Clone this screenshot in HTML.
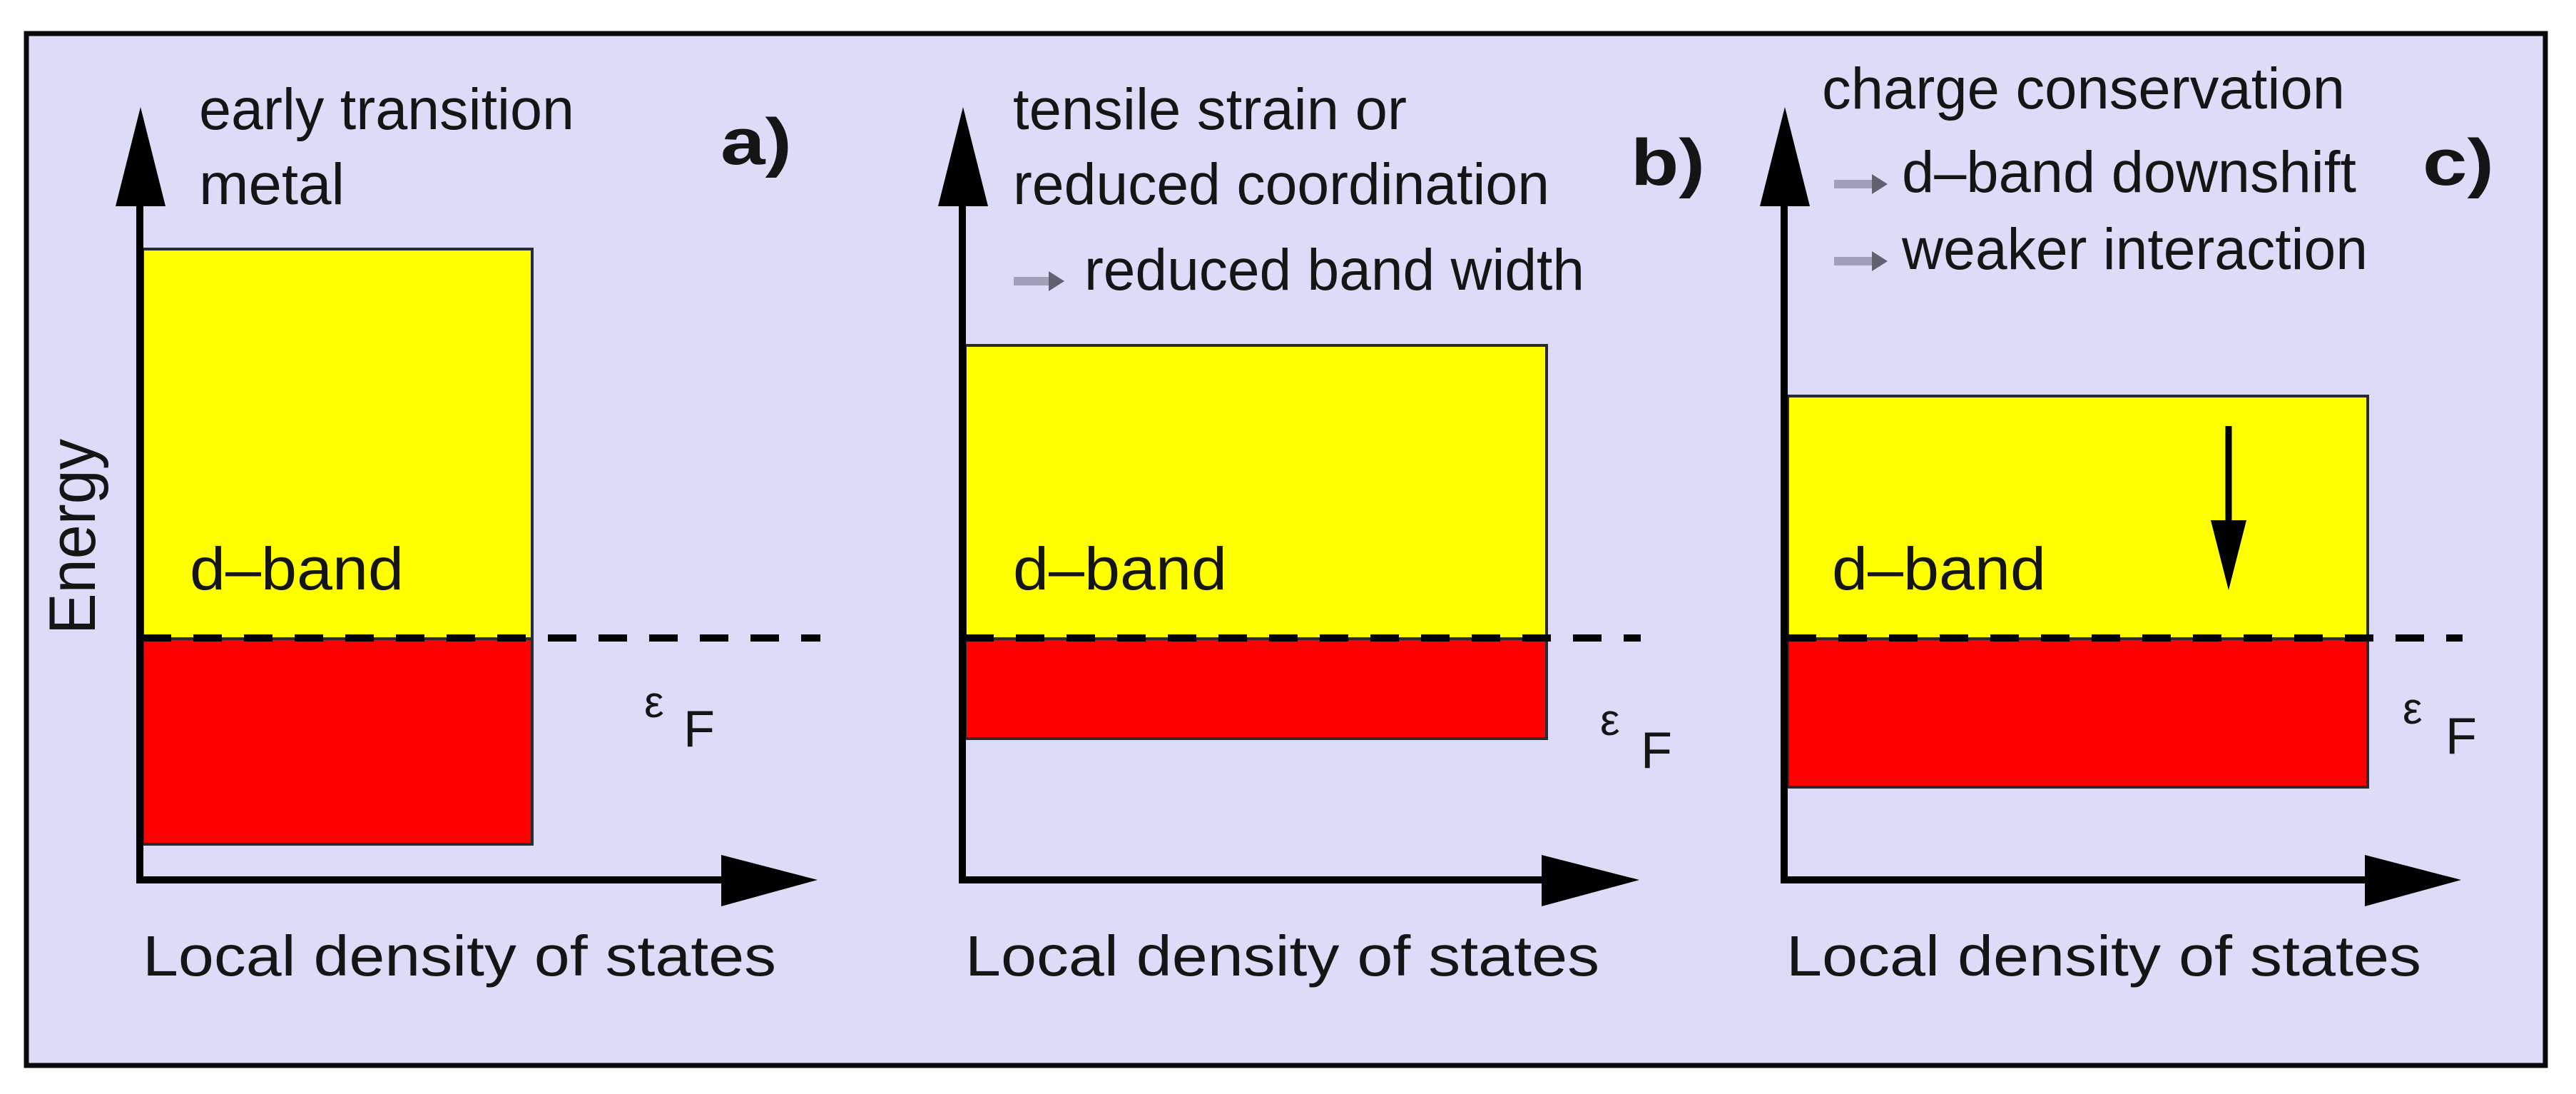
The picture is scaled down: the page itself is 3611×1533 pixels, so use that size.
<!DOCTYPE html>
<html><head><meta charset="utf-8"><style>
html,body{margin:0;padding:0;background:#fff;}
svg{display:block;}
text{font-family:"Liberation Sans",Arial,sans-serif;fill:#151515;}
</style></head><body>
<svg width="3611" height="1533" viewBox="0 0 3611 1533" xmlns="http://www.w3.org/2000/svg">
<rect x="0" y="0" width="3611" height="1533" fill="#fff"/>
<rect x="37" y="47" width="3531" height="1446" fill="#dcdcf9" stroke="#0a0a0a" stroke-width="7"/>

<!-- Panel a -->
<rect x="200" y="349" width="546" height="546" fill="#ffff00" stroke="#2a2a30" stroke-width="4"/>
<rect x="200" y="895" width="546" height="288" fill="#ff0000" stroke="#2a2a30" stroke-width="4"/>
<line x1="200" y1="894" x2="1150" y2="894" stroke="#000" stroke-width="10" stroke-dasharray="40 31"/>
<line x1="196" y1="1236" x2="196" y2="280" stroke="#000" stroke-width="10"/>
<polygon points="197,150 162,289 232,289" fill="#000"/>
<line x1="191" y1="1233" x2="1020" y2="1233" stroke="#000" stroke-width="10"/>
<polygon points="1146,1233 1011,1198 1011,1270" fill="#000"/>
<text x="279" y="181" font-size="82" textLength="526" lengthAdjust="spacingAndGlyphs">early transition</text>
<text x="279" y="286" font-size="82" textLength="204" lengthAdjust="spacingAndGlyphs">metal</text>
<text x="1010" y="230" font-size="92" font-weight="bold" textLength="100" lengthAdjust="spacingAndGlyphs">a)</text>
<text x="266" y="826" font-size="84" textLength="300" lengthAdjust="spacingAndGlyphs">d–band</text>
<text transform="translate(133,889) rotate(-90)" x="0" y="0" font-size="92" textLength="274" lengthAdjust="spacingAndGlyphs">Energy</text>
<text x="903" y="1005" font-size="62">ε</text>
<text x="958" y="1046" font-size="72">F</text>
<text x="200" y="1367" font-size="80" textLength="888" lengthAdjust="spacingAndGlyphs">Local density of states</text>

<!-- Panel b -->
<rect x="1353" y="484" width="815" height="411" fill="#ffff00" stroke="#2a2a30" stroke-width="4"/>
<rect x="1353" y="895" width="815" height="140" fill="#ff0000" stroke="#2a2a30" stroke-width="4"/>
<line x1="1353" y1="894" x2="2300" y2="894" stroke="#000" stroke-width="10" stroke-dasharray="40 31"/>
<line x1="1349" y1="1236" x2="1349" y2="280" stroke="#000" stroke-width="10"/>
<polygon points="1350,150 1315,289 1385,289" fill="#000"/>
<line x1="1344" y1="1233" x2="2170" y2="1233" stroke="#000" stroke-width="10"/>
<polygon points="2298,1233 2161,1198 2161,1270" fill="#000"/>
<text x="1420" y="181" font-size="82" textLength="552" lengthAdjust="spacingAndGlyphs">tensile strain or</text>
<text x="1420" y="286" font-size="82" textLength="752" lengthAdjust="spacingAndGlyphs">reduced coordination</text>
<rect x="1421" y="388" width="52" height="12" fill="#a0a0b8"/>
<polygon points="1470,380 1492,394 1470,408" fill="#606070"/>
<text x="1520" y="406" font-size="82" textLength="701" lengthAdjust="spacingAndGlyphs">reduced band width</text>
<text x="2286" y="259" font-size="92" font-weight="bold" textLength="104" lengthAdjust="spacingAndGlyphs">b)</text>
<text x="1420" y="826" font-size="84" textLength="300" lengthAdjust="spacingAndGlyphs">d–band</text>
<text x="2243" y="1030" font-size="62">ε</text>
<text x="2300" y="1076" font-size="72">F</text>
<text x="1353" y="1367" font-size="80" textLength="889" lengthAdjust="spacingAndGlyphs">Local density of states</text>

<!-- Panel c -->
<rect x="2506" y="555" width="813" height="340" fill="#ffff00" stroke="#2a2a30" stroke-width="4"/>
<rect x="2506" y="895" width="813" height="208" fill="#ff0000" stroke="#2a2a30" stroke-width="4"/>
<line x1="2506" y1="894" x2="3452" y2="894" stroke="#000" stroke-width="10" stroke-dasharray="40 31"/>
<line x1="2501" y1="1236" x2="2501" y2="280" stroke="#000" stroke-width="10"/>
<polygon points="2502,150 2467,289 2537,289" fill="#000"/>
<line x1="2496" y1="1233" x2="3320" y2="1233" stroke="#000" stroke-width="10"/>
<polygon points="3450,1233 3315,1198 3315,1270" fill="#000"/>
<line x1="3124" y1="597" x2="3124" y2="735" stroke="#000" stroke-width="9"/>
<polygon points="3099,729 3149,729 3124,827" fill="#000"/>
<text x="2554" y="152" font-size="82" textLength="733" lengthAdjust="spacingAndGlyphs">charge conservation</text>
<rect x="2571" y="252" width="56" height="12" fill="#a0a0b8"/>
<polygon points="2624,244 2646,258 2624,272" fill="#606070"/>
<text x="2666" y="269" font-size="82" textLength="637" lengthAdjust="spacingAndGlyphs">d–band downshift</text>
<rect x="2571" y="360" width="56" height="12" fill="#a0a0b8"/>
<polygon points="2624,352 2646,366 2624,380" fill="#606070"/>
<text x="2666" y="377" font-size="82" textLength="653" lengthAdjust="spacingAndGlyphs">weaker interaction</text>
<text x="3396" y="259" font-size="92" font-weight="bold" textLength="100" lengthAdjust="spacingAndGlyphs">c)</text>
<text x="2568" y="826" font-size="84" textLength="300" lengthAdjust="spacingAndGlyphs">d–band</text>
<text x="3368" y="1014" font-size="62">ε</text>
<text x="3428" y="1056" font-size="72">F</text>
<text x="2504" y="1367" font-size="80" textLength="890" lengthAdjust="spacingAndGlyphs">Local density of states</text>
</svg>
</body></html>
